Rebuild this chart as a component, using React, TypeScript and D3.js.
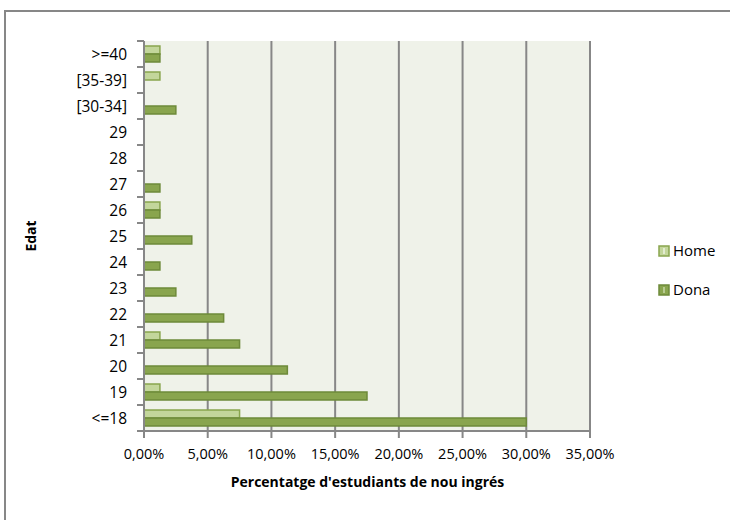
import React from "react";
import * as d3 from "d3";

const categories = [">=40", "[35-39]", "[30-34]", "29", "28", "27", "26", "25", "24", "23", "22", "21", "20", "19", "<=18"];
const homeValues = [1.25, 1.25, 0, 0, 0, 0, 1.25, 0, 0, 0, 0, 1.25, 0, 1.25, 7.5];
const donaValues = [1.25, 0, 2.5, 0, 0, 1.25, 1.25, 3.75, 1.25, 2.5, 6.25, 7.5, 11.25, 17.5, 30];
const xTicks = [0, 5, 10, 15, 20, 25, 30, 35];
const seriesNames = ["Home", "Dona"];

const W = 730, H = 520;
const plot = { left: 144, right: 590, top: 41, bottom: 431 };
const font = "'Open Sans', 'Noto Sans', sans-serif";
const grey = "#878787";
const homeFill = "#c3d69b", homeStroke = "#89a54e";
const donaFill = "#89a54e", donaStroke = "#6e8a3a";

export default function App() {
  const x = d3.scaleLinear().domain([0, 35]).range([plot.left, plot.right]);
  const y = d3.scaleBand<string>().domain(categories).range([plot.top, plot.bottom]).paddingInner(0).paddingOuter(0);
  const bw = y.bandwidth();
  const barH = 8;
  const groupH = barH * 2;
  const fmt = (v: number) => v.toFixed(2).replace(".", ",") + "%";

  return (
    <div style={{ position: "fixed", left: 0, top: 0, width: W, height: H, background: "#fff" }}>
      <svg width={W} height={H} style={{ display: "block" }}>
        <rect x={0} y={0} width={W} height={H} fill="#fff" />
        <rect x={5} y={11} width={W + 20} height={H + 20} fill="#fff" stroke={grey} strokeWidth={2} />
        <rect x={plot.left} y={plot.top} width={plot.right - plot.left} height={plot.bottom - plot.top} fill="#eff2e9" />
        {xTicks.slice(1).map((t) => (
          <line key={"g" + t} x1={x(t)} x2={x(t)} y1={plot.top} y2={plot.bottom} stroke={grey} strokeWidth={2} />
        ))}
        {categories.map((c, i) => {
          const y0 = (y(c) as number) + (bw - groupH) / 2;
          return (
            <g key={c}>
              {homeValues[i] > 0 && (
                <rect x={x(0)} y={y0} width={x(homeValues[i]) - x(0)} height={barH} fill={homeFill} stroke={homeStroke} strokeWidth={1.5} />
              )}
              {donaValues[i] > 0 && (
                <rect x={x(0)} y={y0 + barH} width={x(donaValues[i]) - x(0)} height={barH} fill={donaFill} stroke={donaStroke} strokeWidth={1.5} />
              )}
            </g>
          );
        })}
        {/* y axis */}
        <line x1={plot.left} x2={plot.left} y1={plot.top} y2={plot.bottom + 6} stroke={grey} strokeWidth={2} />
        {categories.map((c) => (
          <line key={"yt" + c} x1={plot.left - 7} x2={plot.left} y1={y(c) as number} y2={y(c) as number} stroke={grey} strokeWidth={2} />
        ))}
        <line x1={plot.left - 7} x2={plot.left} y1={plot.bottom} y2={plot.bottom} stroke={grey} strokeWidth={2} />
        {categories.map((c) => (
          <text key={"yl" + c} x={plot.left - 17} y={(y(c) as number) + bw / 2} dy="0.36em" textAnchor="end" fontFamily={font} fontSize={15.5} fill="#000">
            {c}
          </text>
        ))}
        {/* x axis */}
        <line x1={plot.left} x2={plot.right} y1={plot.bottom} y2={plot.bottom} stroke={grey} strokeWidth={2} />
        {xTicks.map((t) => (
          <line key={"xt" + t} x1={x(t)} x2={x(t)} y1={plot.bottom} y2={plot.bottom + 7} stroke={grey} strokeWidth={2} />
        ))}
        {xTicks.map((t) => (
          <text key={"xl" + t} x={x(t)} y={454} dy="0.36em" textAnchor="middle" fontFamily={font} fontSize={14.5} fill="#000">
            {fmt(t)}
          </text>
        ))}
        <text x={(plot.left + plot.right) / 2 + 0.5} y={482} dy="0.36em" textAnchor="middle" fontFamily={font} fontSize={14} fontWeight="bold" fill="#000">
          Percentatge d'estudiants de nou ingrés
        </text>
        <text transform={`translate(31,${(plot.top + plot.bottom) / 2}) rotate(-90)`} dy="0.36em" textAnchor="middle" fontFamily={font} fontSize={14} fontWeight="bold" fill="#000">
          Edat
        </text>
        {/* legend */}
        {seriesNames.map((s, i) => {
          const ly = 251 + i * 39;
          const fill = i === 0 ? homeFill : donaFill;
          const stroke = i === 0 ? homeStroke : donaStroke;
          return (
            <g key={s}>
              <rect x={659} y={ly - 5} width={10} height={10} fill={fill} stroke={stroke} strokeWidth={1.5} />
              <line x1={664} x2={664} y1={ly - 3} y2={ly + 3} stroke={i === 0 ? "#eef3e2" : "#c9d9a8"} strokeWidth={1.5} />
              <text x={673} y={ly} dy="0.36em" fontFamily={font} fontSize={15} fill="#000">
                {s}
              </text>
            </g>
          );
        })}
      </svg>
    </div>
  );
}
